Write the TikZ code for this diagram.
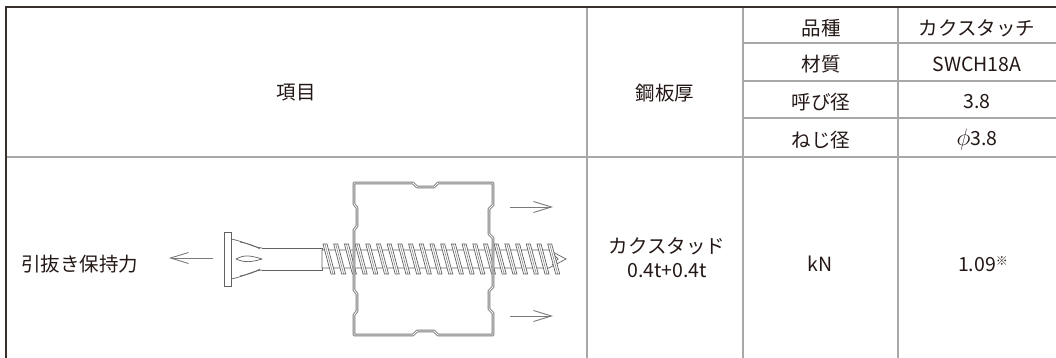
\documentclass[tikz,border=0pt]{standalone}
\usepackage{fontspec}
\setmainfont{Noto Sans CJK JP}
\usetikzlibrary{arrows.meta}
\definecolor{ink}{HTML}{231815}
\definecolor{grid}{HTML}{A8A8A8}
\definecolor{steel}{HTML}{7A7A7A}
\begin{document}
\begin{tikzpicture}[x=1pt,y=-1pt,
  blackrule/.style={draw=ink!90,line width=2.2pt},
  gridrule/.style={draw=grid,line width=2pt},
  txt/.style={text=ink,font=\fontsize{19.5}{24}\selectfont,inner sep=0pt,align=center},
  sheet/.style={draw=steel,double=white,double distance=0.9pt,line width=0.9pt,line join=round},
  scr/.style={draw=steel!80!black,line width=0.7pt,fill=white},
  force/.style={draw=steel,line width=0.9pt,-{Straight Barb[length=18pt,width=11pt,line width=0.9pt]}}]
\useasboundingbox (0,0) rectangle (1056,358);
\fill[white] (0,0) rectangle (1056,358);
% coordinates of the table
\coordinate (tl) at (6,7);
\coordinate (tr) at (1056,7);
\coordinate (bl) at (6,358);
% grid
\draw[gridrule] (6,157) -- (1056,157);
\draw[gridrule] (743,43) -- (1056,43);
\draw[gridrule] (743,81) -- (1056,81);
\draw[gridrule] (743,118) -- (1056,118);
\draw[gridrule] (587,7) -- (587,358);
\draw[gridrule] (743,7) -- (743,358);
\draw[gridrule] (898,7) -- (898,358);
\draw[blackrule] (5,7) -- (tr);
\draw[blackrule] (tl) -- (bl);
% header texts
\node[txt] (koumoku) at (296,93) {項目};
\node[txt] (kouban) at (665,93) {鋼板厚};
\node[txt] (hinshu) at (821,28) {品種};
\node[txt] (zaishitsu) at (821,64) {材質};
\node[txt] (yobi) at (821,102) {呼び径};
\node[txt] (neji) at (821,140) {ねじ径};
\node[txt] (kaku) at (977,28) {カクスタッチ};
\node[txt] (swch) at (977,64) {SWCH18A};
\node[txt] (d38) at (977,102) {3.8};
\node[txt] (phi) at (977,140) {\raisebox{-0.5pt}{\scalebox{1.15}{$\phi$}}3.8};
% body texts
\node[txt,anchor=west] (hikinuki) at (21,264) {引抜き保持力};
\node[txt] (stud) at (667,258) {カクスタッド\\0.4t+0.4t};
\node[txt] (kn) at (820,264) {kN};
\node[txt] (val) at (983,264) {1.09\raisebox{6pt}{\fontsize{12}{12}\selectfont ※}};
% screw: head
\draw[scr] (224,232) rectangle (231,286);
\draw[scr,fill=none] (231,239) .. controls (246,242) and (252,247) .. (262,248);
\draw[scr,fill=none] (231,279) .. controls (246,276) and (252,271) .. (262,270);
\draw[scr,fill=none] (240,242) .. controls (250,244) and (255,246) .. (260,249);
\draw[scr,fill=none] (240,276) .. controls (250,274) and (255,272) .. (260,269);
\draw[scr,fill=none] (236,259) .. controls (245,254) and (252,256) .. (262,259);
\draw[scr,fill=none] (236,259) .. controls (245,263) and (252,262) .. (262,259);
% shank
\draw[scr,fill=none] (262,248) -- (322,248) -- (322,270) -- (262,270);
% threaded core
\draw[scr] (322,250) -- (549,250) -- (566,259) -- (549,268) -- (322,268) -- cycle;
\draw[scr,fill=none] (552,253) -- (558,259) -- (552,265);
% threads
\foreach \i in {0,...,21} {
  \pgfmathsetmacro\xx{323+\i*10.7}
  \draw[scr] (\xx,244) -- (\xx+4,244) -- (\xx+12,274) -- (\xx+8,274) -- cycle;
  \draw[steel,line width=0.5pt] (\xx+2,244) -- (\xx+10,274);
}
% stud (steel sheet section)
\draw[sheet] (354,183) -- (413,183) -- (417,187) -- (434,187) -- (438,183) -- (493,183)
  -- (493,205) -- (489,209) -- (489,234) -- (493,238) -- (493,287) -- (489,291)
  -- (489,309) -- (493,313) -- (493,335) -- (438,335) -- (434,331) -- (417,331)
  -- (413,335) -- (354,335) -- (354,315) -- (357,311) -- (357,294) -- (354,290)
  -- (354,230) -- (357,226) -- (357,208) -- (354,204) -- cycle;
% force arrows
\coordinate (la1) at (213,258); \coordinate (la2) at (169,258);
\coordinate (ra1) at (510,207); \coordinate (ra2) at (553,207);
\coordinate (rb1) at (510,316); \coordinate (rb2) at (553,316);
\draw[force] (la1) -- (la2);
\draw[force] (ra1) -- (ra2);
\draw[force] (rb1) -- (rb2);
\end{tikzpicture}
\end{document}
